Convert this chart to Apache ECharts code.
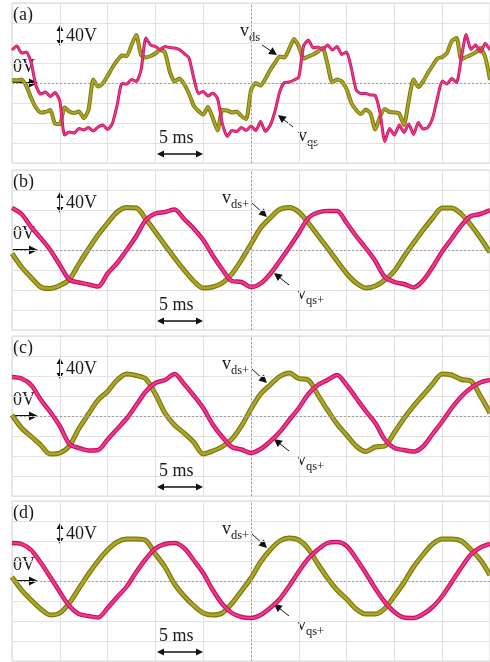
<!DOCTYPE html>
<html>
<head>
<meta charset="utf-8">
<script src="https://cdn.jsdelivr.net/npm/echarts@6/dist/echarts.min.js"></script>
<style>
    html, body { margin: 0; padding: 0; background: #fff; }
    #chart1 { width: 490px; height: 662px; }
</style>
</head>
<body>
<div id="chart1"></div>
<script>
// time step of the samples (ms) and scope window
var stepA = 0.5;
var stepBCD = 1;
var timeMax = 50;
var voltMax = 160;

var panelNames = ['(a)', '(b)', '(c)', '(d)'];
var dsNames = ['ds', 'ds+', 'ds+', 'ds+'];
var qsNames = ['qs', 'qs+', 'qs+', 'qs+'];

// (a) voltages, every 0.5 ms
var vdsA = [6,5,7,-6,-30,-49,-59,-58,-54,-81,-82,-49,-57,-60,-57,-70,-54,7,-7,-1,14,31,45,55,54,76,96,56,51,54,59,66,61,23,3,9,-2,-21,-45,-56,-63,-48,-70,-95,-54,-55,-59,-57,-66,-72,-14,0,-5,8,26,40,53,51,69,88,73,49,53,57,63,70,38,1,7,3,-12,-40,-54,-62,-53,-61,-93,-67,-52,-58,-59,-61,-84,-35,7,-8,3,20,35,49,52,60,84,90,47,52,56,61,70,52,6];
var vqsA = [66,74,60,62,41,-5,-22,-18,-27,-19,-36,-104,-98,-100,-91,-94,-89,-96,-88,-84,-93,-81,-44,-1,-2,7,3,26,90,76,73,67,73,71,70,67,59,51,11,-21,-17,-26,-20,-31,-81,-107,-95,-97,-89,-95,-86,-95,-77,-97,-85,-57,-18,1,2,6,12,74,86,70,72,67,76,66,73,57,62,29,-14,-21,-21,-24,-25,-60,-117,-91,-104,-84,-99,-82,-103,-79,-92,-89,-70,-30,4,-2,9,1,50,97,67,76,62,79,66];
// (b) (c) (d) voltages, every 1 ms
var vdsB = [-7,-34,-55,-74,-77,-71,-59,-28,2,30,54,76,85,84,62,36,10,-16,-40,-62,-76,-74,-66,-48,-20,12,44,64,81,85,76,54,29,4,-22,-47,-66,-76,-72,-60,-42,-13,14,40,64,84,84,72,50,24,-5];
var vqsB = [84,72,46,24,0,-30,-59,-65,-69,-73,-47,-26,0,28,60,73,76,81,62,43,20,-11,-39,-62,-64,-74,-67,-48,-22,5,34,64,75,78,78,54,28,4,-22,-54,-64,-68,-75,-61,-34,-3,23,49,68,72,80];
var vdsC = [2,-24,-41,-58,-76,-74,-60,-25,4,32,49,72,84,81,74,44,6,-18,-34,-52,-76,-70,-61,-46,-20,14,44,62,79,86,75,72,42,12,-16,-38,-60,-71,-62,-60,-33,-5,20,42,64,84,82,73,70,40,6];
var vqsC = [78,75,62,33,8,-20,-56,-64,-69,-68,-47,-26,-5,22,49,66,72,84,64,41,16,-17,-42,-62,-67,-74,-66,-51,-32,-8,16,44,62,72,82,62,36,10,-14,-47,-64,-68,-71,-61,-36,-11,16,39,56,67,72];
var vdsD = [8,-18,-38,-56,-68,-64,-44,-15,14,40,62,78,84,84,81,54,28,-6,-30,-49,-64,-68,-64,-45,-20,6,38,62,80,86,82,64,34,6,-18,-36,-56,-66,-66,-55,-30,-3,28,53,74,84,84,80,63,42,12];
var vqsD = [76,74,62,37,8,-22,-50,-66,-70,-73,-54,-32,-11,18,44,65,74,76,66,42,16,-18,-46,-64,-72,-74,-68,-54,-36,-10,19,45,63,76,78,70,45,16,-15,-42,-62,-73,-74,-66,-52,-30,-2,27,53,67,74];

var dsList = [vdsA, vdsB, vdsC, vdsD];
var qsList = [vqsA, vqsB, vqsC, vqsD];
var steps = [stepA, stepBCD, stepBCD, stepBCD];

var gridTops = [3, 170, 336, 501];
var gridH = 160;
var serif = '"Liberation Serif", "DejaVu Serif", serif';

function toPairs(arr, step) {
    var out = [];
    for (var i = 0; i < arr.length; i++) {
        out.push([i * step, arr[i]]);
    }
    return out;
}

// arrow with a filled head at (x2, y2)
function arrow(x1, y1, x2, y2, lw, hl, hw, both) {
    var els = [];
    var dx = x2 - x1, dy = y2 - y1;
    var len = Math.sqrt(dx * dx + dy * dy);
    var ux = dx / len, uy = dy / len;
    var nx = -uy, ny = ux;
    var sx = both ? x1 + ux * hl * 0.8 : x1;
    var sy = both ? y1 + uy * hl * 0.8 : y1;
    els.push({
        type: 'line', silent: true,
        shape: { x1: sx, y1: sy, x2: x2 - ux * hl * 0.8, y2: y2 - uy * hl * 0.8 },
        style: { stroke: '#111', lineWidth: lw }
    });
    els.push({
        type: 'polygon', silent: true,
        shape: { points: [[x2, y2], [x2 - ux * hl + nx * hw, y2 - uy * hl + ny * hw], [x2 - ux * hl - nx * hw, y2 - uy * hl - ny * hw]] },
        style: { fill: '#111' }
    });
    if (both) {
        els.push({
            type: 'polygon', silent: true,
            shape: { points: [[x1, y1], [x1 + ux * hl + nx * hw, y1 + uy * hl + ny * hw], [x1 + ux * hl - nx * hw, y1 + uy * hl - ny * hw]] },
            style: { fill: '#111' }
        });
    }
    return els;
}

function txt(s, x, y, size) {
    return {
        type: 'text', silent: true, x: x, y: y,
        style: { text: s, font: size + 'px ' + serif, fill: '#1a1a1a', verticalAlign: 'top', align: 'left' }
    };
}

var grids = [], xAxes = [], yAxes = [], series = [], graphics = [];

for (var k = 0; k < 4; k++) {
    var panelTop = gridTops[k];
    var c = panelTop + gridH / 2;
    var thin = (k === 0);
    grids.push({ left: 12, right: 0, top: panelTop, height: gridH, show: true, borderColor: '#d6d6d6', borderWidth: 1 });
    xAxes.push({
        type: 'value', gridIndex: k, min: 0, max: timeMax, interval: 5,
        axisLabel: { show: false }, axisTick: { show: false }, axisLine: { show: false },
        splitLine: { show: true, lineStyle: { color: '#e2e2e2', width: 1 } }
    });
    yAxes.push({
        type: 'value', gridIndex: k, min: -voltMax, max: voltMax, interval: 40,
        axisLabel: { show: false }, axisTick: { show: false }, axisLine: { show: false },
        splitLine: { show: true, lineStyle: { color: '#e2e2e2', width: 1 } }
    });
    // dotted centre lines
    series.push({
        type: 'line', xAxisIndex: k, yAxisIndex: k, data: [], z: 1, silent: true,
        markLine: {
            silent: true, symbol: ['none', 'none'], label: { show: false },
            lineStyle: { color: '#a0a0a0', type: [2, 2], width: 1 },
            data: [{ xAxis: 25 }, { yAxis: 0 }]
        }
    });
    var ds = toPairs(dsList[k], steps[k]);
    var qs = toPairs(qsList[k], steps[k]);
    var sm = thin ? 0.2 : 0.3;
    series.push({ type: 'line', xAxisIndex: k, yAxisIndex: k, data: ds, showSymbol: false, smooth: sm, silent: true, z: 3,
        lineStyle: { color: '#7c7a0e', width: thin ? 4 : 5 } });
    series.push({ type: 'line', xAxisIndex: k, yAxisIndex: k, data: ds, showSymbol: false, smooth: sm, silent: true, z: 4,
        lineStyle: { color: '#aba629', width: thin ? 2 : 2.6 } });
    series.push({ type: 'line', xAxisIndex: k, yAxisIndex: k, data: qs, showSymbol: false, smooth: sm, silent: true, z: 5,
        lineStyle: { color: '#c9105e', width: thin ? 3 : 4.5 } });
    series.push({ type: 'line', xAxisIndex: k, yAxisIndex: k, data: qs, showSymbol: false, smooth: sm, silent: true, z: 6,
        lineStyle: { color: '#ee3a8c', width: thin ? 1.4 : 2.2 } });

    // annotations
    graphics.push(txt(panelNames[k], 13, panelTop + 3, 18));
    graphics = graphics.concat(arrow(60, c - 58, 60, c - 37, 1.6, 6, 3.5, true));
    graphics.push(txt('40V', 66, c - 56, 18));
    graphics.push(txt('0V', 13, c - 25, 18));
    graphics = graphics.concat(arrow(13, c, 38, c, 2, 9, 4.5, false));
    graphics.push(txt('5 ms', 159, c + 46, 18));
    graphics = graphics.concat(arrow(157, c + 71, 203, c + 71, 1.4, 7, 3.5, true));
    var vx = thin ? 240 : 222;
    graphics.push(txt('v', vx, c - 61, 18));
    graphics.push(txt(dsNames[k], vx + 9, c - 52, 12.5));
    if (thin) {
        graphics = graphics.concat(arrow(262, c - 38, 277, c - 28, 1, 8, 4, false));
        graphics = graphics.concat(arrow(293, c + 44, 278, c + 32, 1, 8, 4, false));
        graphics.push(txt('v', 298, c + 44, 18));
        graphics.push(txt(qsNames[k], 307, c + 53, 12.5));
    } else {
        graphics = graphics.concat(arrow(251, c - 48, 267, c - 33, 1, 8, 4, false));
        graphics = graphics.concat(arrow(289, c + 35, 274, c + 23, 1, 8, 4, false));
        graphics.push(txt('v', 297, c + 35, 18));
        graphics.push(txt(qsNames[k], 306, c + 44, 12.5));
    }
}

var myChart = echarts.init(document.getElementById('chart1'), null, { renderer: 'canvas' });
var option = {
    animation: false,
    backgroundColor: '#fff',
    grid: grids,
    xAxis: xAxes,
    yAxis: yAxes,
    series: series,
    graphic: { elements: graphics }
};
myChart.setOption(option);
</script>
</body>
</html>
